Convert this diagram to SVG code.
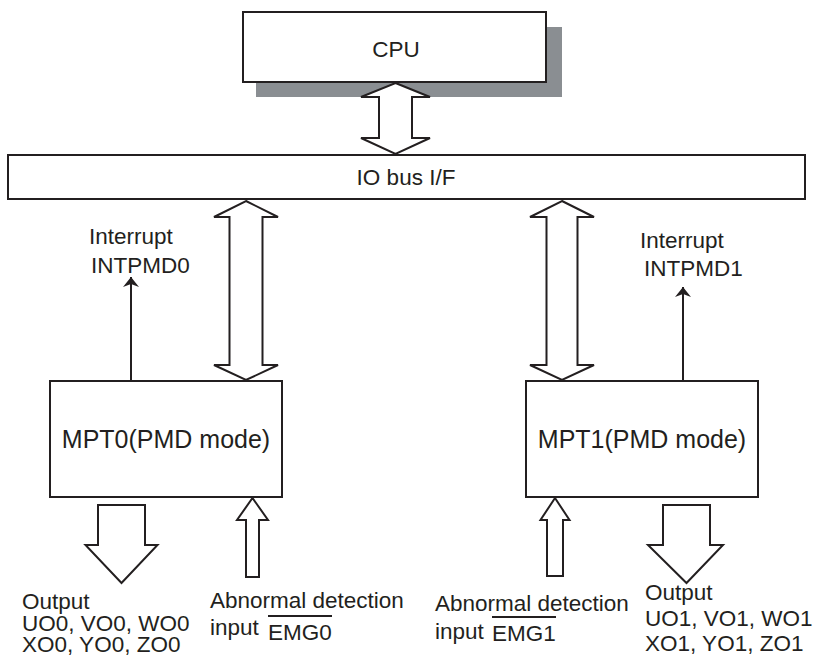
<svg xmlns="http://www.w3.org/2000/svg" width="815" height="658" viewBox="0 0 815 658">
<style>
.box{fill:#fff;stroke:#231f20;stroke-width:2}
.blk{fill:#fff;stroke:#231f20;stroke-width:2;stroke-linejoin:miter}
.ln{fill:none;stroke:#231f20;stroke-width:2}
text{font-family:"Liberation Sans",Arial,sans-serif;font-size:22.5px;fill:#231f20}
.big{font-size:25px}
.ov{stroke:#231f20;stroke-width:2}
</style>
<defs>
<marker id="ah" viewBox="0 0 10 16" refX="10" refY="8" markerWidth="10" markerHeight="16" markerUnits="userSpaceOnUse" orient="auto">
<path d="M0,0 L10,8 L0,16 L3,8 Z" fill="#231f20"/>
</marker>
</defs>
<rect width="815" height="658" fill="#fff"/>
<g id="cpu">
<rect x="256" y="27" width="306" height="70" fill="#8a8e92"/>
<rect class="box" x="243" y="12" width="303" height="70"/>
<text x="396" y="57" text-anchor="middle">CPU</text>
</g>
<g id="iobus">
<rect class="box" x="8" y="155" width="797" height="44"/>
<text x="406" y="185" text-anchor="middle">IO bus I/F</text>
</g>
<g id="mpt0">
<rect class="box" x="50" y="381" width="232" height="116"/>
<text class="big" x="166" y="448" text-anchor="middle">MPT0(PMD mode)</text>
</g>
<g id="mpt1">
<rect class="box" x="526" y="381" width="232" height="116"/>
<text class="big" x="642" y="448" text-anchor="middle">MPT1(PMD mode)</text>
</g>
<g id="connectors">
<polygon class="blk" points="395.5,83 430,97 412,97 412,138 430,138 395.5,154 361,138 379,138 379,97 361,97"/>
<polygon class="blk" points="246,201 278,217 262.5,217 262.5,365 278,365 246,380 214,365 229.5,365 229.5,217 214,217"/>
<polygon class="blk" points="562,201 594,217 577.5,217 577.5,365 594,365 562,380 530,365 546.5,365 546.5,217 530,217"/>
<line class="ln" x1="131" y1="381" x2="131" y2="277" marker-end="url(#ah)"/>
<line class="ln" x1="683" y1="381" x2="683" y2="287" marker-end="url(#ah)"/>
<polygon class="blk" points="98,505 145,505 145,545 157.5,545 121.5,583 85.5,545 98,545"/>
<polygon class="blk" points="663,505 710,505 710,545 723,545 686.5,583 648,545 663,545"/>
<polygon class="blk" points="252.5,498 268,520 259,520 259,577 246,577 246,520 237,520"/>
<polygon class="blk" points="555,498 569.5,520 563,520 563,576 547,576 547,520 540.5,520"/>
</g>
<g id="labels">
<text x="89" y="244">Interrupt</text>
<text x="91" y="273">INTPMD0</text>
<text x="640" y="248">Interrupt</text>
<text x="644" y="276">INTPMD1</text>
<text x="22" y="609">Output</text>
<text x="22" y="631">UO0, VO0, WO0</text>
<text x="22" y="652">XO0, YO0, ZO0</text>
<text x="210" y="608">Abnormal detection</text>
<text x="210" y="635">input</text>
<text x="268" y="640">EMG0</text>
<line class="ov" x1="268" y1="616" x2="332" y2="616"/>
<text x="435" y="611">Abnormal detection</text>
<text x="435" y="639">input</text>
<text x="492" y="641">EMG1</text>
<line class="ov" x1="492" y1="617" x2="556" y2="617"/>
<text x="645" y="600">Output</text>
<text x="645" y="626">UO1, VO1, WO1</text>
<text x="645" y="651">XO1, YO1, ZO1</text>
</g>
</svg>
